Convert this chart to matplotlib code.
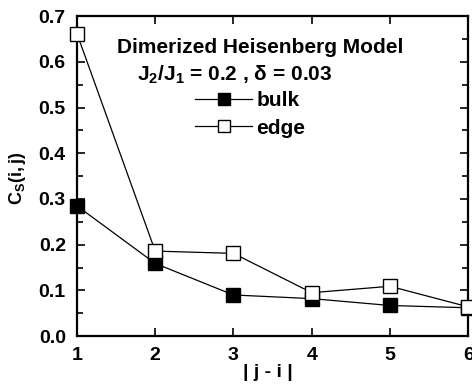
import numpy as np
import matplotlib.pyplot as plt
from matplotlib.ticker import MultipleLocator

plt.rcParams['font.family'] = 'Liberation Sans'
plt.rcParams['font.weight'] = 'bold'
plt.rcParams['mathtext.fontset'] = 'custom'
plt.rcParams['mathtext.rm'] = 'Liberation Sans:bold'
plt.rcParams['mathtext.it'] = 'Liberation Sans:bold'
plt.rcParams['mathtext.bf'] = 'Liberation Sans:bold'

# correlation vs distance
distance = [1, 2, 3, 4, 5, 6]
bulk = [0.285, 0.159, 0.090, 0.082, 0.067, 0.062]
edge = [0.662, 0.186, 0.181, 0.095, 0.109, 0.064]

fig = plt.figure(figsize=(4.72, 3.85), dpi=100)
ax = fig.add_axes([0.163, 0.127, 0.829, 0.831])

ax.plot(distance, bulk, color='black', lw=0.9, marker='s', ms=9.5,
        mfc='black', mec='black', mew=1, clip_on=False, label='bulk', zorder=3)
ax.plot(distance, edge, color='black', lw=0.9, marker='s', ms=9.5,
        mfc='white', mec='black', mew=1, clip_on=False, label='edge', zorder=4)

ax.set_xlim(1, 6)
ax.set_ylim(0, 0.7)
ax.xaxis.set_major_locator(MultipleLocator(1))
ax.yaxis.set_major_locator(MultipleLocator(0.1))
ax.yaxis.set_minor_locator(MultipleLocator(0.05))
ax.yaxis.set_major_formatter(plt.FormatStrFormatter('%.1f'))
ax.tick_params(which='both', direction='in', top=True, right=True, width=1.2)
ax.tick_params(which='major', length=6, labelsize=14, pad=8)
ax.tick_params(which='minor', length=4)
for s in ax.spines.values():
    s.set_linewidth(1.6)

ax.set_xlabel('| j - i |', fontsize=14, fontweight='bold', va='center')
ax.xaxis.set_label_coords(0.488, -0.1125)
ax.set_ylabel(r'$\mathregular{C_S(i,j)}$', fontsize=13, fontweight='bold', va='center')
ax.yaxis.set_label_coords(-0.153, 0.494)

ax.text(0.468, 0.903, 'Dimerized Heisenberg Model', transform=ax.transAxes,
        ha='center', va='center', fontsize=15)
ax.text(0.402, 0.816, r'$\mathregular{J_2/J_1}$ = 0.2 , $\mathregular{\delta}$ = 0.03',
        transform=ax.transAxes, ha='center', va='center', fontsize=15)

leg = ax.legend(loc='upper left', bbox_to_anchor=(0.302, 0.765), frameon=False,
                fontsize=15, markerscale=0.85, handlelength=2.75,
                handletextpad=0.2, labelspacing=0.4, borderpad=0,
                borderaxespad=0)

fig.savefig('out.png', dpi=100)
